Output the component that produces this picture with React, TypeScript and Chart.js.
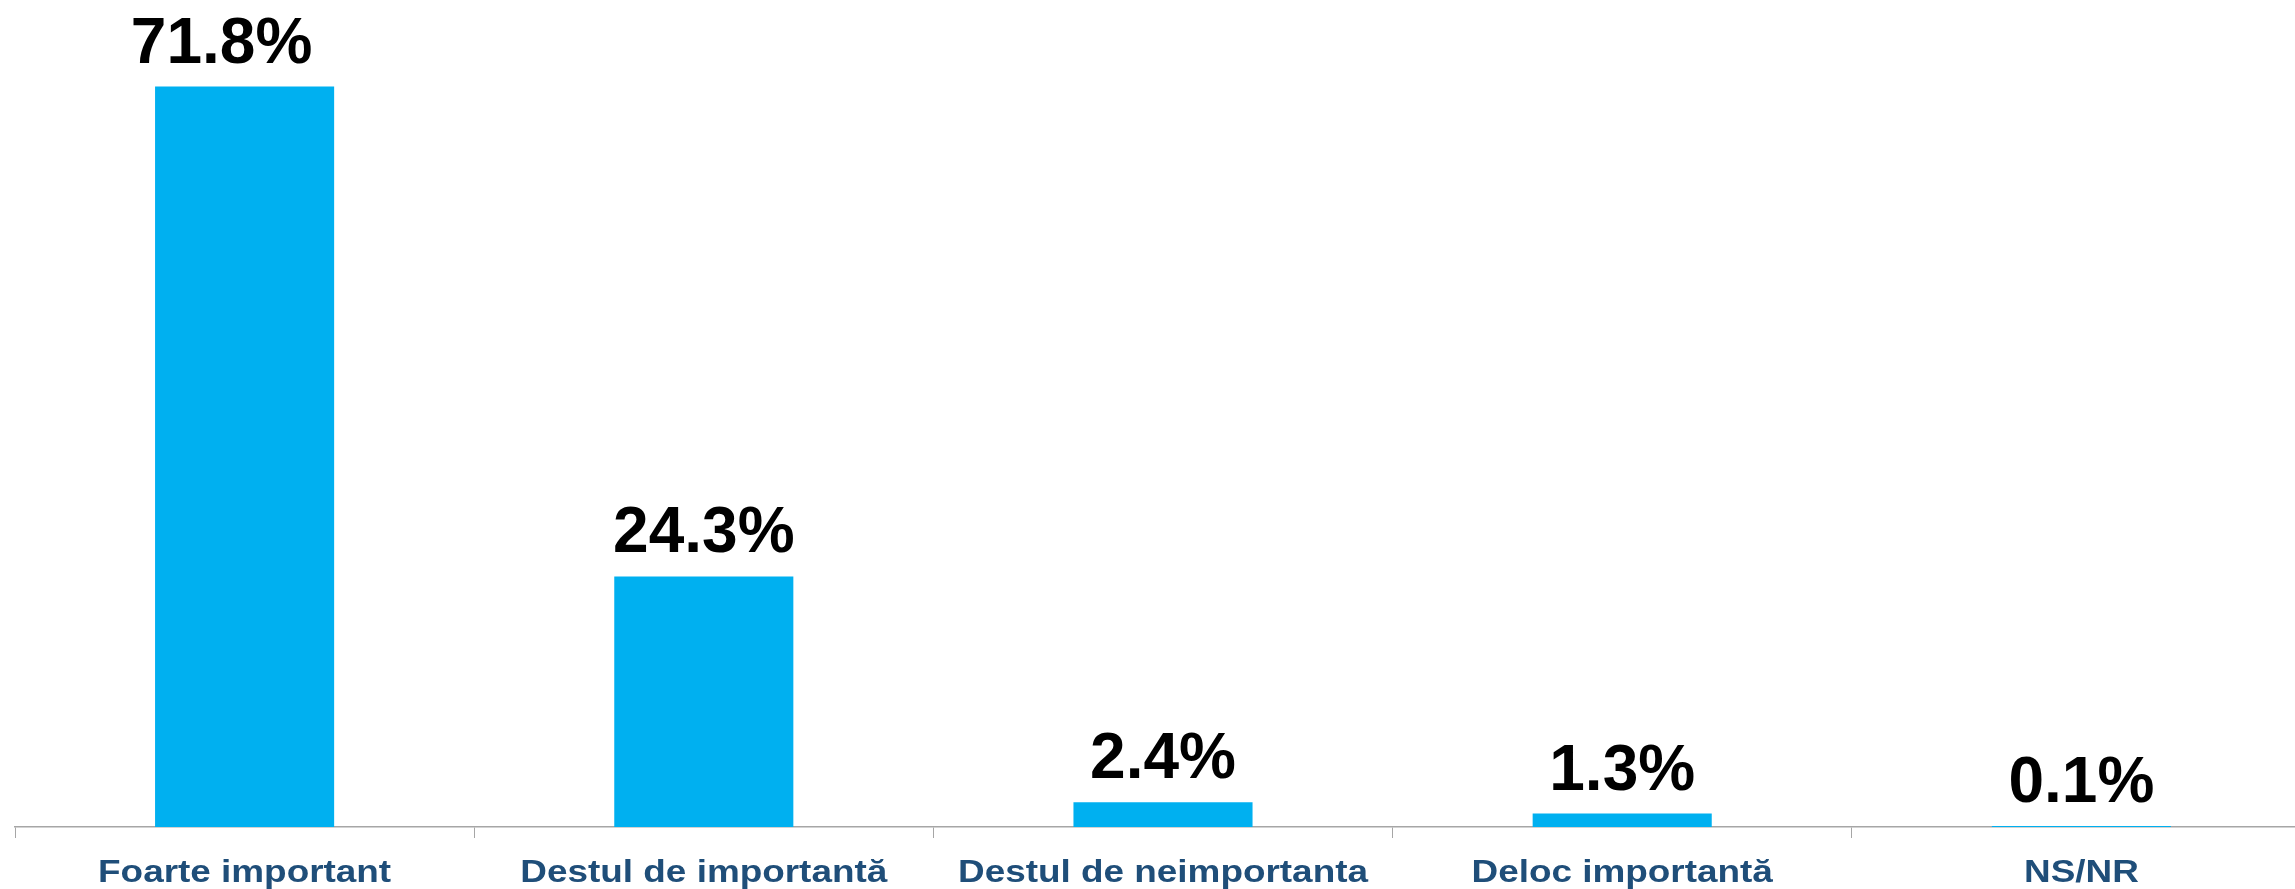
import React, { useEffect, useRef } from "react";
import { Chart, registerables } from "chart.js";

Chart.register(...registerables);

const categories = [
  "Foarte important",
  "Destul de importantă",
  "Destul de neimportanta",
  "Deloc importantă",
  "NS/NR",
];
const values = [71.8, 24.3, 2.4, 1.3, 0.1];

const FONT = "'Liberation Sans', Arial, sans-serif";

const valueLabelPlugin = {
  id: "valueLabels",
  afterDatasetsDraw(chart: any, _args: any, opts: any) {
    const ctx = chart.ctx;
    const meta = chart.getDatasetMeta(0);
    const shifts: number[] = opts.shifts || [];
    ctx.save();
    ctx.font = `bold 64px ${FONT}`;
    ctx.fillStyle = "#000000";
    ctx.textAlign = "center";
    ctx.textBaseline = "alphabetic";
    meta.data.forEach((bar: any, i: number) => {
      const v = chart.data.datasets[0].data[i] as number;
      ctx.fillText(`${v.toFixed(1)}%`, bar.x + (shifts[i] || 0), bar.y - 24);
    });
    ctx.restore();
  },
};

const categoryLabelPlugin = {
  id: "categoryLabels",
  afterDraw(chart: any, _args: any, opts: any) {
    const ctx = chart.ctx;
    const xs = chart.scales.x;
    const labels = chart.data.labels as string[];
    ctx.save();
    ctx.font = `bold ${opts.size}px ${FONT}`;
    ctx.fillStyle = opts.color;
    ctx.textAlign = "center";
    ctx.textBaseline = "alphabetic";
    labels.forEach((lab, i) => {
      const x = xs.getPixelForTick(i);
      ctx.save();
      ctx.translate(x, xs.top + opts.baselineOffset);
      ctx.scale(opts.stretch, 1);
      ctx.fillText(lab, 0, 0);
      ctx.restore();
    });
    ctx.restore();
  },
};

export default function App() {
  const ref = useRef<HTMLCanvasElement>(null);
  useEffect(() => {
    if (!ref.current) return;
    const chart = new Chart(ref.current, {
      type: "bar",
      data: {
        labels: categories,
        datasets: [
          {
            data: values,
            backgroundColor: "#00B0F0",
            borderWidth: 0,
            barPercentage: 0.39,
            categoryPercentage: 1,
          },
        ],
      },
      options: {
        responsive: false,
        animation: false,
        devicePixelRatio: 1,
        layout: { padding: { left: 15, right: 19, top: 2, bottom: 0 } },
        plugins: {
          legend: { display: false },
          tooltip: { enabled: false },
          valueLabels: { shifts: [-23, 0, 0, 0, 0] },
          categoryLabels: { size: 31, color: "#1F4E79", stretch: 1.19, baselineOffset: 55 },
        } as any,
        scales: {
          x: {
            grid: {
              display: true,
              drawOnChartArea: false,
              drawTicks: true,
              tickLength: 11,
              color: "#a6a6a6",
              lineWidth: 1,
              offset: true,
            },
            border: { display: true, color: "#a6a6a6", width: 1.5 },
            ticks: {
              display: false,
            },
            afterFit: (scale: any) => {
              scale.height = 62;
            },
          },
          y: {
            display: false,
            min: 0,
            max: 80,
          },
        },
      },
      plugins: [valueLabelPlugin, categoryLabelPlugin],
    });
    return () => chart.destroy();
  }, []);
  return (
    <div
      style={{
        position: "absolute",
        left: 0,
        top: 0,
        width: 2295,
        height: 889,
        overflow: "hidden",
        background: "#ffffff",
      }}
    >
      <canvas ref={ref} width={2330} height={889} style={{ width: 2330, height: 889, display: "block" }} />
    </div>
  );
}
